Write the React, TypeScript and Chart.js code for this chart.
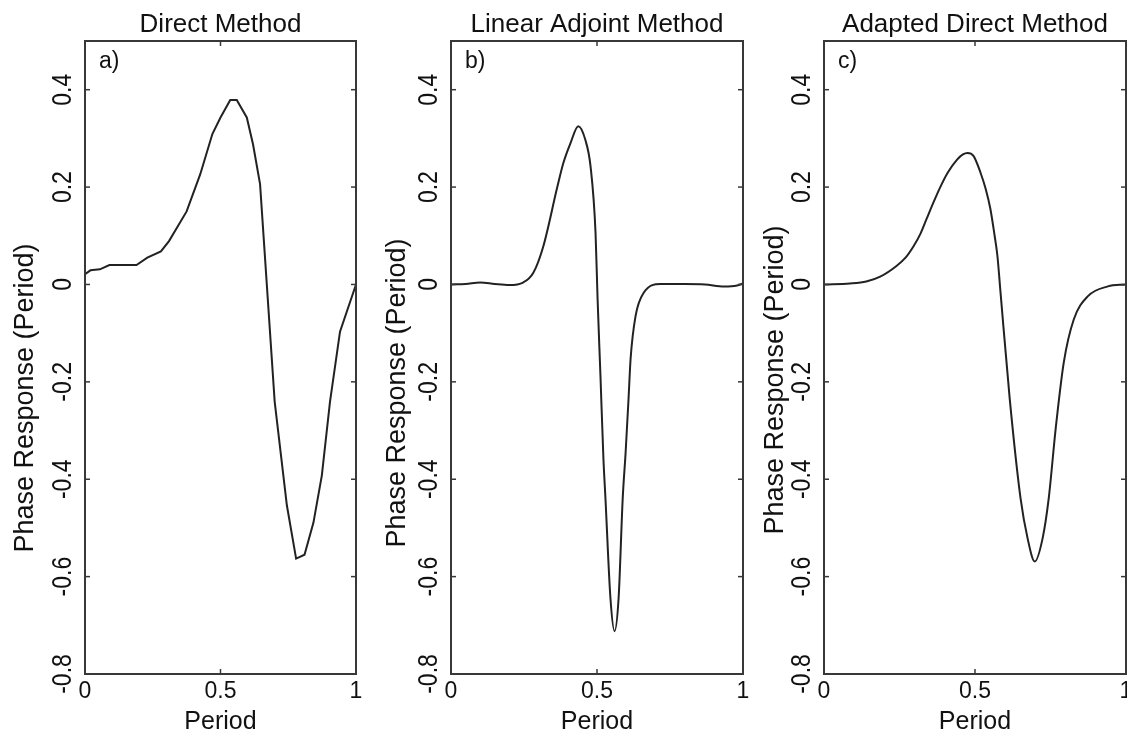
import React, { useEffect, useRef } from 'react';
import { Chart, registerables } from 'chart.js';

Chart.register(...registerables);

const panelTitles = ['Direct Method', 'Linear Adjoint Method', 'Adapted Direct Method'];
const panelLetters = ['a)', 'b)', 'c)'];
const xAxisTitle = 'Period';
const yAxisTitle = 'Phase Response (Period)';

const xTicks = [0, 0.5, 1];
const xTickLabels = ['0', '0.5', '1'];
const yTicks = [-0.8, -0.6, -0.4, -0.2, 0, 0.2, 0.4];
const yTickLabels = ['-0.8', '-0.6', '-0.4', '-0.2', '0', '0.2', '0.4'];

// a) Direct Method (piecewise linear)
const directX = [0, 0.02, 0.055, 0.09, 0.19, 0.23, 0.28, 0.31, 0.375, 0.425, 0.47, 0.5, 0.536, 0.56, 0.597, 0.62, 0.646, 0.7, 0.745, 0.779, 0.81, 0.843, 0.874, 0.904, 0.941, 1.0];
const directY = [0.021, 0.029, 0.031, 0.04, 0.04, 0.055, 0.068, 0.089, 0.15, 0.226, 0.309, 0.343, 0.379, 0.379, 0.343, 0.288, 0.206, -0.241, -0.454, -0.563, -0.555, -0.489, -0.392, -0.241, -0.097, 0.0];

// b) Linear Adjoint Method
const adjointX = [0, 0.05, 0.1, 0.15, 0.2, 0.247, 0.282, 0.316, 0.364, 0.385, 0.409, 0.436, 0.46, 0.478, 0.495, 0.502, 0.512, 0.522, 0.529, 0.546, 0.56, 0.574, 0.588, 0.598, 0.608, 0.615, 0.632, 0.66, 0.718, 0.8, 0.87, 0.935, 0.98, 1.0];
const adjointY = [0, 0.001, 0.004, 0.001, -0.001, 0.004, 0.024, 0.078, 0.2, 0.25, 0.29, 0.325, 0.297, 0.242, 0.106, -0.03, -0.19, -0.358, -0.44, -0.644, -0.712, -0.644, -0.44, -0.345, -0.235, -0.153, -0.065, -0.017, 0.001, 0.001, 0, -0.004, -0.002, 0.002];

// c) Adapted Direct Method
const adaptedX = [0, 0.086, 0.14, 0.186, 0.24, 0.27, 0.296, 0.32, 0.34, 0.36, 0.385, 0.41, 0.44, 0.46, 0.475, 0.495, 0.518, 0.535, 0.551, 0.565, 0.574, 0.585, 0.615, 0.651, 0.674, 0.698, 0.724, 0.744, 0.767, 0.794, 0.827, 0.874, 0.94, 1.0];
const adaptedY = [0, 0.002, 0.006, 0.016, 0.038, 0.055, 0.078, 0.105, 0.135, 0.165, 0.2, 0.23, 0.256, 0.267, 0.27, 0.264, 0.23, 0.197, 0.155, 0.1, 0.06, -0.02, -0.235, -0.44, -0.521, -0.569, -0.521, -0.44, -0.297, -0.16, -0.072, -0.024, -0.004, 0];

const seriesX = [directX, adjointX, adaptedX];
const seriesY = [directY, adjointY, adaptedY];
const smooth = [false, true, true];

const W = 1127;
const H = 737;
const FONT = '"Liberation Sans", Arial, sans-serif';

// layout of each panel's plot box
const boxes = [
  { left: 85, right: 356, yTitleOffset: 52, yTitleCenter: 398 },
  { left: 451, right: 743, yTitleOffset: 46, yTitleCenter: 393 },
  { left: 824, right: 1126, yTitleOffset: 41, yTitleCenter: 380 },
];
const BOX_TOP = 41;
const BOX_BOTTOM = 674;

const decor = {
  id: 'decor',
  afterDraw(chart: any, _args: any, opts: any) {
    const { ctx, chartArea: a, scales } = chart;
    const xs = scales.x;
    const ys = scales.y;
    ctx.save();
    // frame
    ctx.strokeStyle = '#383838';
    ctx.lineWidth = 2;
    ctx.strokeRect(a.left, a.top, a.right - a.left, a.bottom - a.top);
    // inward ticks
    ctx.lineWidth = 1.5;
    const seg = (x1: number, y1: number, x2: number, y2: number) => {
      ctx.beginPath();
      ctx.moveTo(x1, y1);
      ctx.lineTo(x2, y2);
      ctx.stroke();
    };
    yTicks.forEach((v) => {
      const py = ys.getPixelForValue(v);
      seg(a.left, py, a.left + 5, py);
      seg(a.right - 5, py, a.right, py);
    });
    xTicks.forEach((v) => {
      const px = xs.getPixelForValue(v);
      seg(px, a.top, px, a.top + 5);
      seg(px, a.bottom - 5, px, a.bottom);
    });

    ctx.fillStyle = '#111';
    // title
    ctx.font = `26px ${FONT}`;
    ctx.textAlign = 'center';
    ctx.textBaseline = 'alphabetic';
    ctx.fillText(opts.title, (a.left + a.right) / 2, 32);
    // panel letter
    ctx.font = `23px ${FONT}`;
    ctx.textAlign = 'left';
    ctx.fillText(opts.letter, a.left + 14, 68);
    // x tick labels
    ctx.font = `23px ${FONT}`;
    ctx.textAlign = 'center';
    xTicks.forEach((v, i) => {
      ctx.fillText(xTickLabels[i], xs.getPixelForValue(v), a.bottom + 24);
    });
    // x title
    ctx.font = `25px ${FONT}`;
    ctx.fillText(xAxisTitle, (a.left + a.right) / 2, 729);
    // y tick labels (rotated)
    ctx.font = `23px ${FONT}`;
    yTicks.forEach((v, i) => {
      ctx.save();
      ctx.translate(a.left - 14, ys.getPixelForValue(v));
      ctx.rotate(-Math.PI / 2);
      ctx.scale(1, 1.18);
      ctx.textAlign = 'center';
      ctx.fillText(yTickLabels[i], 0, 0);
      ctx.restore();
    });
    // y title
    ctx.font = `27px ${FONT}`;
    ctx.save();
    ctx.translate(a.left - opts.yTitleOffset, opts.yTitleCenter);
    ctx.rotate(-Math.PI / 2);
    ctx.textAlign = 'center';
    ctx.fillText(yAxisTitle, 0, 0);
    ctx.restore();

    ctx.restore();
  },
};

function Panel({ idx }: { idx: number }) {
  const ref = useRef<HTMLCanvasElement | null>(null);
  useEffect(() => {
    const b = boxes[idx];
    const xsArr = seriesX[idx];
    const ysArr = seriesY[idx];
    const chart = new Chart(ref.current as HTMLCanvasElement, {
      type: 'line',
      data: {
        datasets: [
          {
            data: xsArr.map((x, i) => ({ x, y: ysArr[i] })),
            borderColor: '#222',
            borderWidth: 2,
            pointRadius: 0,
            fill: false,
            tension: 0,
            cubicInterpolationMode: smooth[idx] ? 'monotone' : 'default',
          } as any,
        ],
      },
      options: {
        responsive: false,
        animation: false,
        devicePixelRatio: 1,
        events: [],
        layout: {
          padding: {
            left: b.left,
            right: W - b.right,
            top: BOX_TOP,
            bottom: H - BOX_BOTTOM,
          },
        },
        scales: {
          x: { type: 'linear', min: 0, max: 1, display: false },
          y: { type: 'linear', min: -0.8, max: 0.5, display: false },
        },
        plugins: {
          legend: { display: false },
          tooltip: { enabled: false },
          title: { display: false },
          decor: {
            title: panelTitles[idx],
            letter: panelLetters[idx],
            yTitleOffset: b.yTitleOffset,
            yTitleCenter: b.yTitleCenter,
          },
        } as any,
      },
      plugins: [decor],
    });
    return () => chart.destroy();
  }, [idx]);
  return (
    <canvas
      ref={ref}
      width={W}
      height={H}
      style={{ position: 'absolute', left: 0, top: 0, width: W, height: H }}
    />
  );
}

export default function App() {
  return (
    <div style={{ position: 'fixed', left: 0, top: 0, width: W, height: H, background: '#fff' }}>
      <Panel idx={0} />
      <Panel idx={1} />
      <Panel idx={2} />
    </div>
  );
}
